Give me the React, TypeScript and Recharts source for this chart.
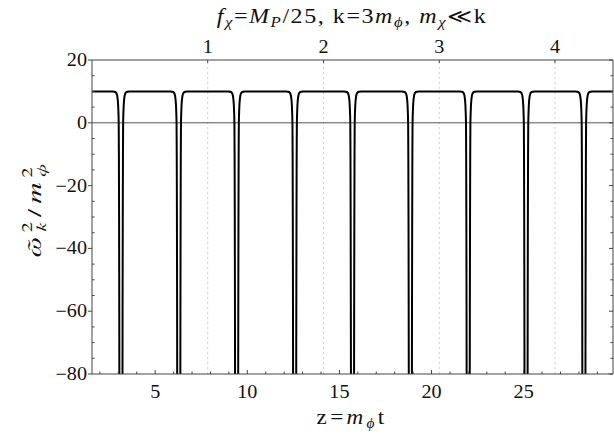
import React from "react";
import {
  LineChart,
  Line,
  XAxis,
  YAxis,
  ReferenceLine,
} from "recharts";

// flat level and dip positions (z = m_phi t)
const plateau = 10;
const zStart = 1.57;
const zEnd = 29.85;
const dipCenters = [3.14, 6.28, 9.42, 12.57, 15.71, 18.85, 21.99, 25.13, 28.27];
// shape of one dip: distance from centre -> value
const dipOffsets = [0.45, 0.3, 0.24, 0.2, 0.17, 0.15, 0.13, 0.12, 0.11, 0.1, 0.09, 0.08];
const dipValues = [10, 9.8, 9.4, 8.6, 7.2, 5.5, 2.5, 0, -10, -30, -60, -100];
const dipBottom = -300;

const bottomTicks = [2, 3, 4, 5, 6, 7, 8, 9, 10, 11, 12, 13, 14, 15, 16, 17, 18, 19, 20, 21, 22, 23, 24, 25, 26, 27, 28, 29];
const bottomLabels = [5, 10, 15, 20, 25];
// top axis (oscillation count): labels and where they sit on the z axis
const topLabels = [1, 2, 3, 4];
const topTickZ = [7.85, 14.14, 20.42, 26.7];
const yTicks = [-80, -75, -70, -65, -60, -55, -50, -45, -40, -35, -30, -25, -20, -15, -10, -5, 0, 5, 10, 15, 20];
const yLabels = [-80, -60, -40, -20, 0, 20];

const rows: { z: number; w: number }[] = [{ z: zStart, w: plateau }];
dipCenters.forEach((c) => {
  for (let i = 0; i < dipOffsets.length; i++) rows.push({ z: c - dipOffsets[i], w: dipValues[i] });
  rows.push({ z: c, w: dipBottom });
  for (let i = dipOffsets.length - 1; i >= 0; i--) rows.push({ z: c + dipOffsets[i], w: dipValues[i] });
});
rows.push({ z: zEnd, w: plateau });

const serif = "'Liberation Serif', 'Times New Roman', serif";
const serifStyle: React.CSSProperties = { fontFamily: serif };
const axisColor = "#444";
const fmt = (v: number) => (v < 0 ? "\u2212" + Math.abs(v) : String(v));

// tick text, slightly widened like the original export
const TickText = ({ x, y, anchor, children }: { x: number; y: number; anchor: "start" | "middle" | "end"; children: React.ReactNode }) => (
  <text
    transform={`translate(${x},${y}) scale(1.12,1)`}
    textAnchor={anchor}
    fontSize={18}
    style={serifStyle}
    fill="#111"
  >
    {children}
  </text>
);

const BottomTick = (props: any) => {
  const { x, y, payload } = props;
  const major = bottomLabels.includes(payload.value);
  return (
    <g>
      <line x1={x} y1={y} x2={x} y2={y - (major ? 4 : 2.5)} stroke={axisColor} />
      {major && (
        <TickText x={x} y={y + 24} anchor="middle">
          {payload.value}
        </TickText>
      )}
    </g>
  );
};

const TopTick = (props: any) => {
  const { x, y, payload } = props;
  const label = topLabels[topTickZ.indexOf(payload.value)];
  return (
    <g>
      <line x1={x} y1={y} x2={x} y2={y + 3} stroke={axisColor} />
      <TickText x={x} y={y - 7} anchor="middle">
        {label}
      </TickText>
    </g>
  );
};

const LeftTick = (props: any) => {
  const { x, y, payload } = props;
  const major = yLabels.includes(payload.value);
  return (
    <g>
      {major ? (
        <line x1={x - 4} y1={y} x2={x} y2={y} stroke={axisColor} />
      ) : (
        <line x1={x} y1={y} x2={x + 2.5} y2={y} stroke={axisColor} />
      )}
      {major && (
        <TickText x={x - 5} y={y + 6} anchor="end">
          {fmt(payload.value)}
        </TickText>
      )}
    </g>
  );
};

const RightTick = (props: any) => {
  const { x, y, payload } = props;
  const major = yLabels.includes(payload.value);
  return <line x1={x} y1={y} x2={x - (major ? 4 : 2.5)} y2={y} stroke={axisColor} />;
};

export default function App() {
  return (
    <div style={{ position: "absolute", left: 0, top: 0, width: 614, height: 438, background: "#fff" }}>
      <LineChart width={614} height={438} data={rows} margin={{ top: 0, right: 0, bottom: 0, left: 0 }}>
        <XAxis
          xAxisId="bottom"
          dataKey="z"
          type="number"
          domain={[zStart, zEnd]}
          allowDataOverflow
          ticks={bottomTicks}
          interval={0}
          height={64}
          tickSize={0}
          tickMargin={0}
          tickLine={false}
          tick={<BottomTick />}
          axisLine={{ stroke: axisColor }}
        />
        <XAxis
          xAxisId="top"
          orientation="top"
          dataKey="z"
          type="number"
          domain={[zStart, zEnd]}
          allowDataOverflow
          ticks={topTickZ}
          interval={0}
          height={60}
          tickSize={0}
          tickMargin={0}
          tickLine={false}
          tick={<TopTick />}
          axisLine={{ stroke: axisColor }}
        />
        <YAxis
          yAxisId="left"
          type="number"
          domain={[-80, 20]}
          allowDataOverflow
          ticks={yTicks}
          interval={0}
          width={92}
          tickSize={0}
          tickMargin={0}
          tickLine={false}
          tick={<LeftTick />}
          axisLine={{ stroke: axisColor }}
        />
        <YAxis
          yAxisId="right"
          orientation="right"
          type="number"
          domain={[-80, 20]}
          allowDataOverflow
          ticks={yTicks}
          interval={0}
          width={1}
          tickSize={0}
          tickMargin={0}
          tickLine={false}
          tick={<RightTick />}
          axisLine={{ stroke: axisColor }}
        />
        {topTickZ.map((t) => (
          <ReferenceLine
            key={t}
            xAxisId="bottom"
            yAxisId="left"
            x={t}
            stroke="#cfcfcf"
            strokeDasharray="2 3"
          />
        ))}
        <ReferenceLine xAxisId="bottom" yAxisId="left" y={0} stroke="#555" strokeWidth={1} />
        <Line
          xAxisId="bottom"
          yAxisId="left"
          dataKey="w"
          type="linear"
          stroke="#000"
          strokeWidth={2}
          dot={false}
          isAnimationActive={false}
        />
      </LineChart>

      <svg
        width={614}
        height={438}
        style={{ position: "absolute", left: 0, top: 0, pointerEvents: "none", fontFamily: serif }}
        fill="#111"
      >
        <text transform="translate(352,23) scale(1.2,1)" fontSize={20} textAnchor="middle" style={{ letterSpacing: 1.3 }}>
          <tspan fontStyle="italic">f</tspan>
          <tspan fontStyle="italic" fontSize={14} dy={4}>χ</tspan>
          <tspan dy={-4}>=</tspan>
          <tspan fontStyle="italic">M</tspan>
          <tspan fontStyle="italic" fontSize={14} dy={4}>P</tspan>
          <tspan dy={-4}>/25, k=3</tspan>
          <tspan fontStyle="italic">m</tspan>
          <tspan fontStyle="italic" fontSize={14} dy={4}>ϕ</tspan>
          <tspan dy={-4}>, </tspan>
          <tspan fontStyle="italic">m</tspan>
          <tspan fontStyle="italic" fontSize={14} dy={4}>χ</tspan>
          <tspan dy={-4}>≪k</tspan>
        </text>

        <text transform="translate(352,424) scale(1.1,1)" fontSize={21} textAnchor="middle" style={{ letterSpacing: 3 }}>
          z=
          <tspan fontStyle="italic">m</tspan>
          <tspan fontStyle="italic" fontSize={14} dy={4}>ϕ</tspan>
          <tspan dy={-4}>t</tspan>
        </text>

        <text
          transform="translate(41,208) rotate(-90) scale(1.45,1)"
          fontSize={20}
          textAnchor="middle"
          style={{ fontFamily: "'FreeSerif', 'Liberation Serif', serif", letterSpacing: 3.5 }}
        >
          <tspan fontStyle="italic">ω̃</tspan>
          <tspan fontSize={14} dy={-9}>2</tspan>
          <tspan fontStyle="italic" fontSize={14} dx={-10} dy={14}>k</tspan>
          <tspan dy={-5}>/</tspan>
          <tspan fontStyle="italic">m</tspan>
          <tspan fontSize={14} dy={-9}>2</tspan>
          <tspan fontStyle="italic" fontSize={14} dx={-10} dy={14}>ϕ</tspan>
        </text>
      </svg>
    </div>
  );
}
